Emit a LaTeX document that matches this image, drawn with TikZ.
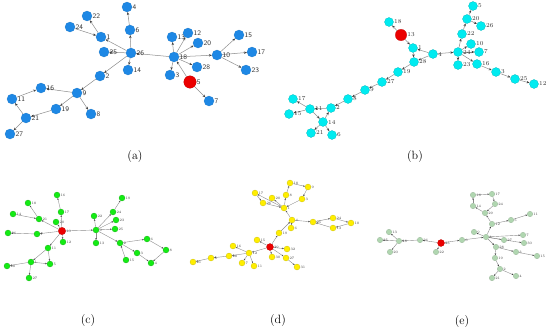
\documentclass[tikz,border=0pt]{standalone}
\usepackage{tikz}
\usetikzlibrary{arrows.meta, backgrounds}
\definecolor{nodeblue}{RGB}{30, 136, 229}
\definecolor{nodecyan}{RGB}{0, 235, 240}
\definecolor{nodegreen}{RGB}{20, 235, 20}
\definecolor{nodeyellow}{RGB}{255, 238, 0}
\definecolor{nodesage}{RGB}{176, 214, 176}
\definecolor{rootred}{RGB}{235, 0, 0}
\definecolor{edgegray}{RGB}{140, 140, 140}

\begin{document}
\begin{tikzpicture}[x=1pt, y=-1pt,
  dot/.style={circle, inner sep=0pt, line width=0.2pt},
  anode/.style={dot, fill=nodeblue, draw=nodeblue!85!black, minimum size=10pt},
  bnode/.style={dot, fill=nodecyan, draw=nodecyan!75!black, minimum size=9pt},
  cnode/.style={dot, fill=nodegreen, draw=nodegreen!70!black, minimum size=6pt},
  dnode/.style={dot, fill=nodeyellow, draw=nodeyellow!75!black, minimum size=6pt},
  enode/.style={dot, fill=nodesage, draw=nodesage!80!black, minimum size=5.5pt},
  root/.style={fill=rootred, draw=rootred!80!black},
  alab/.style={font=\sffamily\fontsize{7}{7}\selectfont, text=black!80, inner sep=0.4pt},
  blab/.style={font=\fontsize{6}{6}\selectfont, text=black!80, inner sep=0.4pt},
  slab/.style={font=\fontsize{3.5}{3.5}\selectfont, text=black!75, inner sep=0.3pt},
  biglink/.style={draw=edgegray, line width=0.5pt, -{Stealth[length=3pt, width=2.4pt, color=black!75]}},
  smalllink/.style={draw=edgegray, line width=0.4pt, -{Stealth[length=1.8pt, width=1.5pt, color=black!75]}},
  caption/.style={font=\fontsize{12}{14}\selectfont}
]
\useasboundingbox (0,0) rectangle (550,332);

% (a)
\foreach \nm/\x/\y in {4/127/7, 22/87/16, 24/70/27, 1/101/37, 6/130/30, 25/104/52,
    26/131/53, 14/128/70, 2/100/76, 16/41/88, 9/77/93, 11/12/99, 19/56/109,
    8/91/114, 21/26/118, 27/10/134, 13/172/37, 12/188/33, 20/198/43, 18/174/57,
    10/217/55, 15/239/35, 17/252/52, 28/197/67, 3/170/75, 23/246/70, 7/209/101}
  \node[anode, label={[alab]right:\nm}] (a\nm) at (\x,\y) {};
\node[anode, root, minimum size=12.5pt, label={[alab]right:5}] (a5) at (190,82) {};
\begin{scope}[on background layer]
\foreach \s/\e in {5/18, 5/7, 18/13, 18/12, 18/20, 18/28, 18/3, 18/10, 10/15, 10/17,
    10/23, 18/26, 26/6, 6/4, 26/1, 24/1, 1/22, 26/25, 26/14, 26/2, 2/9, 9/16,
    9/8, 9/19, 19/21, 21/11, 11/16, 21/27}
  \draw[biglink] (a\s) -- (a\e);
\end{scope}
\node[caption] (capa) at (135,157) {(a)};

% (b)
\foreach \nm/\x/\y in {18/389/22, 1/413/48, 28/414/62, 19/398/72, 27/382/82, 9/365/90,
    8/348/99, 2/331/108, 17/293/99, 11/310/109, 15/289/114, 14/323/122, 21/311/133,
    6/332/135, 5/473/6, 20/467/19, 26/481/26, 22/462/34, 10/471/44, 4/433/54,
    24/458/52, 7/479/52, 23/458/65, 16/477/64, 3/496/72, 25/515/79, 12/534/84}
  \node[bnode, label={[blab]right:\nm}] (b\nm) at (\x,\y) {};
\node[bnode, root, minimum size=11.5pt, label={[blab]right:13}] (b13) at (401,35) {};
\begin{scope}[on background layer]
\foreach \s/\e in {13/18, 13/1, 4/1, 4/28, 1/28, 4/24, 24/22, 22/20, 20/5, 20/26,
    24/10, 24/7, 24/23, 24/16, 16/3, 3/25, 25/12, 28/19, 19/27, 27/9, 9/8, 8/2,
    2/11, 14/2, 11/17, 11/15, 11/14, 14/21, 14/6}
  \draw[biglink] (b\s) -- (b\e);
\end{scope}
\node[caption] (capb) at (415,157) {(b)};

% (c)
\foreach \nm/\x/\y in {16/57/195, 18/28/203, 17/61/212, 14/13/214, 21/39/219,
    20/56/222, 26/8/233, 7/37/234, 12/63/242, 11/48/248, 1/31/262, 5/50/264,
    28/7/266, 27/29/278, 9/96/230, 22/94/216, 24/113/212, 19/122/198, 23/116/220,
    25/115/229, 13/96/243, 2/120/243, 6/147/239, 3/137/253, 8/166/250, 15/126/260,
    4/151/263}
  \node[cnode, label={[slab]right:\nm}] (c\nm) at (\x,\y) {};
\node[cnode, root, minimum size=7.5pt, label={[slab]right:10}] (c10) at (62,231) {};
\begin{scope}[on background layer]
\foreach \s/\e in {10/20, 10/17, 17/16, 10/21, 21/18, 14/21, 10/7, 7/26, 10/12,
    10/11, 11/1, 11/5, 1/5, 1/28, 1/27, 10/9, 9/22, 9/24, 24/19, 9/23, 9/25, 9/13,
    9/2, 2/6, 6/8, 8/4, 3/4, 2/3, 15/2}
  \draw[smalllink] (c\s) -- (c\e);
\end{scope}
\node[caption] (capc) at (88,321) {(c)};

% (d)
\foreach \nm/\x/\y in {18/290/183, 9/308/187, 17/255/193, 20/272/198, 8/286/195,
    26/263/203, 3/302/199, 1/284/208, 4/292/220, 6/291/228, 19/279/233, 25/313/222,
    24/333/218, 10/351/223, 13/333/228, 15/257/240, 16/233/246, 32/287/249,
    12/249/253, 28/229/256, 30/272/257, 27/286/258, 5/211/258, 21/193/262,
    7/242/263, 11/254/266, 31/297/267}
  \node[dnode, label={[slab]right:\nm}] (d\nm) at (\x,\y) {};
\node[dnode, root, minimum size=7pt, label={[slab]right:29}] (d29) at (270,247) {};
\begin{scope}[on background layer]
\foreach \s/\e in {29/15, 29/19, 19/4, 4/6, 4/1, 1/17, 17/26, 26/1, 1/20, 1/8, 8/18,
    18/9, 9/3, 3/1, 4/25, 25/24, 24/10, 10/13, 13/25, 29/32, 29/30, 29/27, 27/31,
    29/12, 12/16, 12/28, 28/5, 5/21, 12/7, 12/11}
  \draw[smalllink] (d\s) -- (d\e);
\end{scope}
\node[caption] (capd) at (278,321) {(d)};

% (e)
\foreach \nm/\x/\y in {16/473/195, 17/492/194, 14/473/206, 24/495/204, 29/485/213,
    12/492/224, 5/511/220, 11/530/214, 9/474/232, 6/462/240, 8/486/237, 7/523/235,
    27/504/240, 30/524/243, 13/389/232, 25/380/240, 18/399/241, 26/420/240,
    20/390/252, 22/436/252, 28/496/247, 3/516/252, 15/537/256, 19/495/258,
    2/500/269, 4/516/276, 21/492/278}
  \node[enode, label={[slab]right:\nm}] (e\nm) at (\x,\y) {};
\node[enode, root, minimum size=7pt, label={[slab]right:23}] (e23) at (441,243) {};
\begin{scope}[on background layer]
\foreach \s/\e in {23/26, 26/18, 18/13, 18/25, 18/20, 23/22, 23/6, 6/8, 8/9, 8/12,
    12/29, 29/14, 14/16, 16/17, 17/24, 24/29, 12/5, 5/11, 8/27, 8/7, 8/30, 8/28,
    28/3, 3/15, 28/19, 19/2, 2/21, 2/4}
  \draw[smalllink] (e\s) -- (e\e);
\end{scope}
\node[caption] (cape) at (462,322) {(e)};
\end{tikzpicture}
\end{document}
